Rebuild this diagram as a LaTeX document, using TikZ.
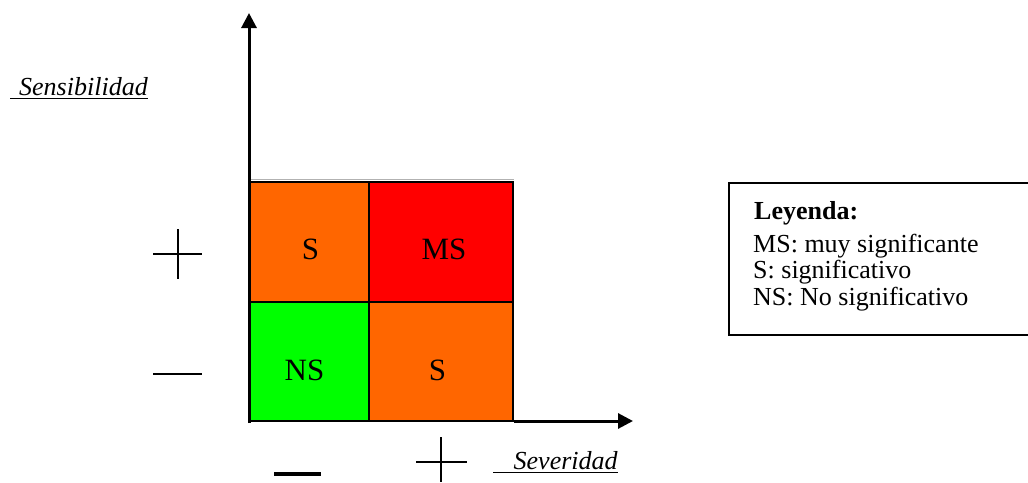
\documentclass[tikz,border=0pt]{standalone}
\usepackage{fontspec}
\setmainfont{Liberation Serif}
\usetikzlibrary{arrows.meta}

\definecolor{orangeS}{HTML}{FF6600}
\definecolor{redMS}{HTML}{FF0000}
\definecolor{greenNS}{HTML}{00FF00}

\tikzset{
  axis/.style={line width=3pt, -{Triangle[length=15pt,width=15pt]}},
  cell/.style={draw=black, line width=2pt, rectangle, inner sep=0pt},
  celltext/.style={anchor=base, inner sep=0pt, font=\fontsize{31}{31}\selectfont},
  axislabel/.style={anchor=base west, inner sep=0pt, font=\fontsize{26}{26}\selectfont\itshape},
  legendtext/.style={anchor=base west, inner sep=0pt, font=\fontsize{26}{26}\selectfont},
  sign/.style={line width=2pt},
  uline/.style={line width=1.6pt}
}

\begin{document}
\begin{tikzpicture}[x=1pt, y=-1pt]
\useasboundingbox (0,0) rectangle (1028,482);

% risk matrix cells
\node[cell, fill=orangeS, minimum width=120pt, minimum height=120pt] (c11) at (309,242) {};
\node[cell, fill=redMS, minimum width=144pt, minimum height=120pt] (c12) at (441,242) {};
\node[cell, fill=greenNS, minimum width=120pt, minimum height=119pt] (c21) at (309,361.5) {};
\node[cell, fill=orangeS, minimum width=144pt, minimum height=119pt] (c22) at (441,361.5) {};
\draw[gray!60, line width=1pt] ([yshift=2pt]c11.north west) -- ([yshift=2pt]c12.north east);

% cell labels
\node[celltext] (t11) at (310.5,259) {S};
\node[celltext] (t12) at (444,259.5) {MS};
\node[celltext] (t21) at (304.5,380.5) {NS};
\node[celltext] (t22) at (437.5,380.5) {S};

% axes
\coordinate (O) at (249,423);
\coordinate (Ox) at (249,421);
\coordinate (ytip) at (249,13);
\coordinate (xtip) at (633,421);
\draw[axis] (O) -- (ytip);
\draw[axis] (c22.south east |- Ox) -- (xtip);

% axis titles, underlined
\node[axislabel] (sens) at (19,95.5) {Sensibilidad};
\draw[uline] (10,98.5) -- (sens.base east |- 0,98.5);
\node[axislabel] (sev) at (513.5,469) {Severidad};
\draw[uline] (493,472.5) -- (sev.base east |- 0,472.5);

% plus and minus marks on the sensitivity axis
\draw[sign] (153,254) -- (202,254);
\draw[sign] (178,229) -- (178,279);
\draw[sign] (153,374) -- (202,374);

% minus and plus marks on the severity axis
\draw[line width=4pt] (274,473.5) -- (321,473.5);
\draw[sign] (416,461.5) -- (467,461.5);
\draw[sign] (441,437) -- (441,482);

% legend box, open towards the right edge
\draw[line width=2pt] (1030,182.5) -- (729,182.5) -- (729,334.5) -- (1030,334.5);
\node[legendtext, font=\fontsize{26}{26}\selectfont\bfseries] (leg0) at (754,219) {Leyenda:};
\node[legendtext] (leg1) at (753,252) {MS: muy significante};
\node[legendtext] (leg2) at (753,278.5) {S: significativo};
\node[legendtext] (leg3) at (753,305) {NS: No significativo};
\end{tikzpicture}
\end{document}
